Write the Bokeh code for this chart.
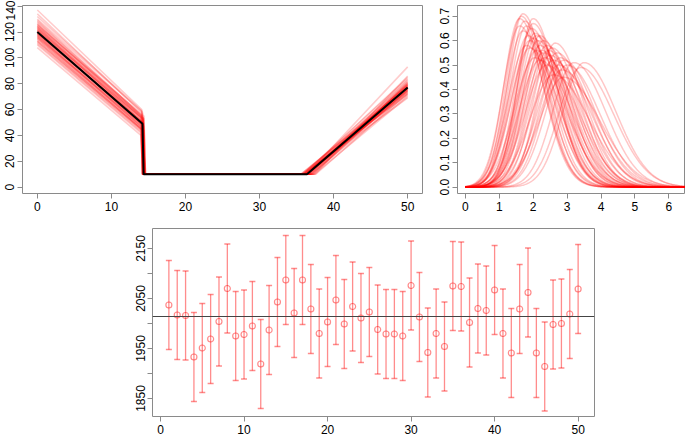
import numpy as np
from bokeh.plotting import figure
from bokeh.layouts import column, row
from bokeh.models import FixedTicker, Span, Range1d, ColumnDataSource
from bokeh.embed import file_html
from bokeh.resources import INLINE

# ---------------- Panel 1: simulated trajectories (piecewise) ----------------
traj_start = [120, 118, 122, 115, 125, 112, 128, 119, 121, 117, 123, 110, 130, 116, 124, 113, 126, 108, 134, 137,
              119, 121, 114, 127, 118, 122, 116, 124, 111, 129, 120, 117, 123, 115, 125, 119, 121, 132, 113, 126]
traj_drop_val = [49, 47, 52, 45, 55, 43, 56, 50, 48, 46, 53, 42, 58, 47, 51, 44, 54, 40, 57, 60,
                 50, 49, 45, 53, 48, 51, 46, 52, 43, 55, 49, 47, 50, 44, 54, 48, 52, 59, 44, 53]
traj_drop_x = [14.2, 14.0, 14.3, 14.1, 14.4, 14.2, 14.0, 14.3, 14.2, 14.1, 14.3, 14.0, 14.2, 14.4, 14.1, 14.2, 14.3, 14.0, 14.2, 14.1,
               14.3, 14.2, 14.0, 14.4, 14.2, 14.1, 14.3, 14.2, 14.0, 14.2, 14.3, 14.1, 14.2, 14.4, 14.0, 14.2, 14.3, 14.1, 14.2, 14.3]
traj_rise_x = [36.4, 36.0, 37.0, 35.8, 36.6, 37.4, 36.2, 35.6, 36.8, 36.4, 37.2, 36.0, 35.9, 36.5, 37.6, 36.3, 36.1, 36.9, 35.7, 36.4,
               37.0, 36.2, 36.6, 35.8, 36.4, 37.3, 36.0, 36.7, 36.2, 35.9, 36.5, 37.1, 36.3, 36.0, 36.8, 36.4, 35.6, 37.5, 36.2, 36.6]
traj_end = [77, 75, 80, 72, 83, 70, 78, 76, 79, 74, 81, 69, 85, 76, 73, 78, 82, 71, 77, 93,
            76, 79, 74, 80, 75, 78, 73, 81, 77, 84, 76, 75, 79, 72, 80, 77, 78, 86, 74, 79]
floor_level = 10
mean_x = [0, 14.2, 14.35, 36.4, 50]
mean_y = [120, 49, 10, 10, 77]

# ---------------- Panel 2: posterior densities (mode, peak height) ----------------
dens_mode = [1.60, 1.65, 1.70, 1.75, 1.60, 1.70, 1.80, 1.85, 1.90, 1.95, 2.00, 2.00, 2.05, 2.00, 2.10,
             2.15, 2.20, 2.20, 2.25, 2.30, 2.30, 2.35, 2.40, 2.45, 2.50, 2.55, 2.60, 2.65, 2.70, 2.75,
             2.80, 2.85, 2.90, 3.00, 3.20, 3.40, 3.50, 2.10, 1.90, 2.40, 2.60, 2.05, 2.20, 2.90, 1.80]
dens_peak = [0.69, 0.70, 0.71, 0.68, 0.66, 0.64, 0.66, 0.62, 0.60, 0.65, 0.69, 0.67, 0.63, 0.61, 0.62,
             0.60, 0.58, 0.62, 0.56, 0.60, 0.55, 0.53, 0.58, 0.56, 0.54, 0.57, 0.52, 0.59, 0.55, 0.50,
             0.53, 0.48, 0.52, 0.50, 0.51, 0.49, 0.51, 0.56, 0.57, 0.50, 0.46, 0.53, 0.52, 0.45, 0.58]
dens_skew = 1.5

# ---------------- Panel 3: estimates with intervals ----------------
est_x = list(range(1, 51))
est_val = [2037, 2017, 2016, 1933, 1951, 1969, 2004, 2070, 1975, 1978,
           1995, 1919, 1987, 2043, 2087, 2021, 2087, 2029, 1980, 2003,
           2047, 1999, 2034, 2011, 2023, 1988, 1979, 1979, 1975, 2076,
           2013, 1942, 1980, 1954, 2075, 2074, 2002, 2030, 2026, 2067,
           1980, 1941, 2029, 2062, 1941, 1914, 1998, 2000, 2019, 2069]
est_err = 89
ref_value = 2014

FONT = "Liberation Sans"
GRAY = "#8a8a8a"


def style(p, xticks, yticks, yover=None):
    p.outline_line_color = GRAY
    p.outline_line_width = 1
    p.xgrid.visible = False
    p.ygrid.visible = False
    p.background_fill_color = "white"
    p.border_fill_color = "white"
    p.xaxis.ticker = FixedTicker(ticks=xticks)
    p.yaxis.ticker = FixedTicker(ticks=yticks)
    for ax in (p.xaxis[0], p.yaxis[0]):
        ax.axis_line_color = None
        ax.major_tick_line_color = GRAY
        ax.major_tick_out = 5
        ax.major_tick_in = 0
        ax.minor_tick_line_color = None
        ax.major_label_text_font = FONT
        ax.major_label_text_font_size = "12px"
        ax.major_label_text_color = "black"
        ax.major_label_standoff = 3
    p.yaxis.major_label_orientation = "vertical"
    if yover:
        p.yaxis.major_label_overrides = yover


# Panel 1
p1 = figure(frame_width=400, frame_height=188, output_backend="svg", toolbar_location=None,
            x_range=Range1d(-2, 52), y_range=Range1d(-4.9, 140.5),
            min_border_left=22, min_border_right=10, min_border_top=5, min_border_bottom=25)
xs1, ys1 = [], []
for a, b, d, r, c in zip(traj_start, traj_drop_val, traj_drop_x, traj_rise_x, traj_end):
    xs1.append([0, d, d + 0.2, r, 50])
    ys1.append([a, b, floor_level, floor_level, c])
p1.multi_line(xs1, ys1, line_color="red", line_alpha=0.2, line_width=1.6)
p1.line(mean_x, mean_y, line_color="black", line_width=2)
style(p1, [0, 10, 20, 30, 40, 50], [0, 20, 40, 60, 80, 100, 120, 140])

# Panel 2
p2 = figure(frame_width=228, frame_height=188, output_backend="svg", toolbar_location=None,
            x_range=Range1d(-0.23, 6.49), y_range=Range1d(-0.026, 0.744),
            min_border_left=25, min_border_right=0, min_border_top=5, min_border_bottom=25)
grid = np.linspace(0, 6.5, 261)
xs2, ys2 = [], []
for m, h in zip(dens_mode, dens_peak):
    sl = 0.798 / h / (1 + dens_skew)
    sr = sl * dens_skew
    s = np.where(grid < m, sl, sr)
    xs2.append(grid.tolist())
    ys2.append((h * np.exp(-0.5 * ((grid - m) / s) ** 2)).tolist())
p2.multi_line(xs2, ys2, line_color="red", line_alpha=0.22, line_width=1.5)
style(p2, [0, 1, 2, 3, 4, 5, 6], [0, 0.1, 0.2, 0.3, 0.4, 0.5, 0.6, 0.7],
      {0: "0.0", 0.1: "0.1", 0.2: "0.2", 0.3: "0.3", 0.4: "0.4", 0.5: "0.5", 0.6: "0.6", 0.7: "0.7"})

# Panel 3
p3 = figure(frame_width=442, frame_height=188, output_backend="svg", toolbar_location=None,
            x_range=Range1d(-0.96, 51.96), y_range=Range1d(1814, 2190),
            min_border_left=152, min_border_right=10, min_border_top=10, min_border_bottom=22)
lo = [v - est_err for v in est_val]
hi = [v + est_err for v in est_val]
src = ColumnDataSource(dict(x=est_x, y=est_val, lo=lo, hi=hi))
p3.segment(x0="x", y0="lo", x1="x", y1="hi", source=src, line_color="red", line_alpha=0.45, line_width=1.3)
p3.scatter(x="x", y="lo", source=src, marker="dash", size=6, line_color="red", line_alpha=0.45, line_width=1.3)
p3.scatter(x="x", y="hi", source=src, marker="dash", size=6, line_color="red", line_alpha=0.45, line_width=1.3)
p3.scatter(x="x", y="y", source=src, marker="circle", size=6, fill_color=None,
           line_color="red", line_alpha=0.45, line_width=1.2)
p3.add_layout(Span(location=ref_value, dimension="width", line_color="#444444", line_width=1.2))
style(p3, [0, 10, 20, 30, 40, 50], [1850, 1900, 1950, 2000, 2050, 2100, 2150],
      {1900: "", 2000: "", 2100: ""})

layout = column(row(p1, p2), p3)
open("out.html", "w").write(file_html(layout, INLINE))
